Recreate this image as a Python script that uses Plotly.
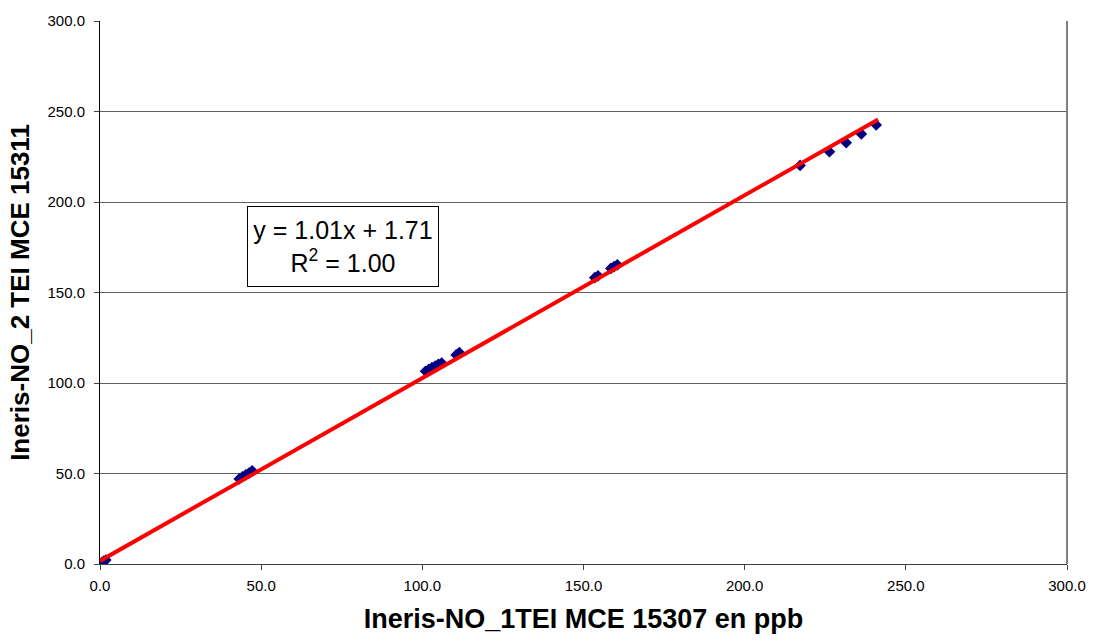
import plotly.graph_objects as go

# Paired NO readings from the two analysers (ppb)
no_1tei_15307 = [0.0, 0.6, 1.2, 1.8,
                 43.2, 44.2, 45.2, 46.2, 47.2,
                 101.0, 102.0, 103.0, 104.0, 105.0, 106.0, 110.5, 111.5,
                 153.5, 154.5, 158.5, 159.5, 160.5,
                 217.2, 226.3, 231.5, 236.2, 240.8]
no_2tei_15311 = [0.2, 0.9, 1.6, 2.2,
                 47.0, 48.2, 49.2, 50.2, 51.5,
                 106.5, 107.5, 108.5, 109.3, 110.3, 111.0, 115.5, 116.8,
                 158.2, 159.2, 163.3, 164.3, 165.3,
                 220.2, 227.8, 232.8, 237.6, 242.6]

# Linear regression shown on the chart
slope = 1.01
intercept = 1.71
r_squared = 1.00
fit_x = [0.0, 241.4]
fit_y = [slope * v + intercept for v in fit_x]

fig = go.Figure()
fig.add_trace(go.Scatter(
    x=no_1tei_15307, y=no_2tei_15311, mode="markers",
    marker=dict(symbol="diamond", size=9, color="#000080"),
    showlegend=False,
))
fig.add_trace(go.Scatter(
    x=fit_x, y=fit_y, mode="lines",
    line=dict(color="#FF0000", width=4),
    showlegend=False,
))

fig.add_annotation(
    xref="paper", yref="paper", x=0.251, y=0.584,
    xanchor="center", yanchor="middle", showarrow=False,
    text=f"y = {slope:.2f}x + {intercept:.2f}<br>R<sup>2</sup> = {r_squared:.2f}",
    font=dict(family="Arial, Liberation Sans", size=25, color="black"),
    align="center", bgcolor="white", bordercolor="black", borderwidth=1,
    borderpad=2, width=186, height=75,
)

axis_font = dict(family="Arial, Liberation Sans", size=15, color="black")
title_font = dict(family="Arial, Liberation Sans", size=27, color="black")

fig.update_layout(
    width=1098, height=642,
    margin=dict(l=100, r=27, t=16, b=78),
    paper_bgcolor="white", plot_bgcolor="white",
    font=dict(family="Arial, Liberation Sans"),
    xaxis=dict(
        range=[0, 300], tickvals=[0, 50, 100, 150, 200, 250, 300],
        tickformat=".1f", tickfont=axis_font,
        showgrid=False, zeroline=False,
        showline=True, linecolor="#404040", linewidth=1, mirror=False,
        ticks="outside", ticklen=5, tickcolor="#404040",
        ticklabelstandoff=3,
        title=dict(text="<b>Ineris-NO_1TEI MCE 15307 en ppb</b>", font=title_font, standoff=16),
    ),
    yaxis=dict(
        range=[0, 300], tickvals=[0, 50, 100, 150, 200, 250, 300],
        tickformat=".1f", tickfont=axis_font,
        showgrid=True, gridcolor="#606060", gridwidth=1, zeroline=False,
        showline=True, linecolor="#000000", linewidth=1, mirror=False,
        ticks="outside", ticklen=5, tickcolor="#404040",
        ticklabelstandoff=6,
        title=dict(text="<b>Ineris-NO_2 TEI MCE 15311</b>", font=dict(family="Arial, Liberation Sans", size=26, color="black"), standoff=10),
    ),
)

# Plot-area frame on the right side
fig.add_shape(type="line", xref="paper", yref="paper", x0=1, x1=1, y0=0, y1=1,
              line=dict(color="#808080", width=2))

fig.write_html("out.html")
